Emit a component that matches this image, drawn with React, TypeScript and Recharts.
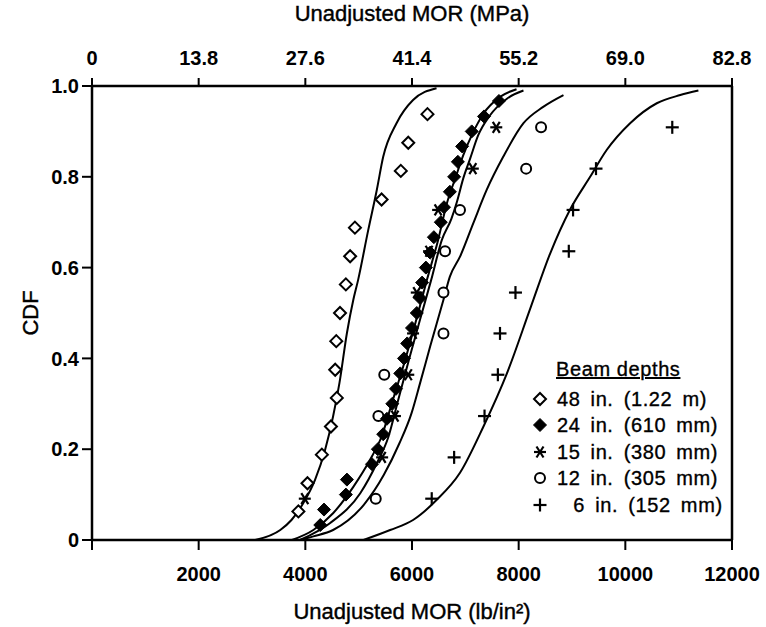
import React from 'react';
import { ComposedChart, XAxis, YAxis, Scatter, Line, ReferenceLine } from 'recharts';

const FONT = '"Liberation Sans", Arial, sans-serif';
const INK = '#000';

// axis ticks
const psiTicks = [0, 2000, 4000, 6000, 8000, 10000, 12000];
const mpaTicks = [0, 13.8, 27.6, 41.4, 55.2, 69.0, 82.8];
const cdfTicks = [0, 0.2, 0.4, 0.6, 0.8, 1.0];

// 48 in. (1.22 m) beams - open diamonds
const mor48 = [3870, 4040, 4310, 4480, 4590, 4560, 4580, 4650, 4760, 4840, 4930, 5430, 5790, 5930, 6290];
const cdf48 = [0.063, 0.125, 0.188, 0.25, 0.313, 0.375, 0.438, 0.5, 0.563, 0.625, 0.688, 0.75, 0.813, 0.875, 0.938];

// 24 in. (610 mm) beams - filled diamonds
const mor24 = [4280, 4350, 4760, 4780, 5250, 5360, 5460, 5530, 5630, 5700, 5780, 5850, 5910, 6000, 6090,
  6150, 6190, 6260, 6340, 6410, 6540, 6600, 6710, 6790, 6860, 6940, 7120, 7350, 7630];
const cdf24 = [0.033, 0.067, 0.1, 0.133, 0.167, 0.2, 0.233, 0.267, 0.3, 0.333, 0.367, 0.4, 0.433, 0.467, 0.5,
  0.533, 0.567, 0.6, 0.633, 0.667, 0.7, 0.733, 0.767, 0.8, 0.833, 0.867, 0.9, 0.933, 0.967];

// 15 in. (380 mm) beams - asterisks
const mor15 = [3990, 5440, 5680, 5930, 6020, 6090, 6320, 6490, 7140, 7580];
const cdf15 = [0.091, 0.182, 0.273, 0.364, 0.455, 0.545, 0.636, 0.727, 0.818, 0.909];

// 12 in. (305 mm) beams - open circles
const mor12 = [5320, 5370, 5480, 6590, 6590, 6620, 6900, 8140, 8420];
const cdf12 = [0.091, 0.273, 0.364, 0.455, 0.545, 0.636, 0.727, 0.818, 0.909];

// 6 in. (152 mm) beams - plus signs
const mor6 = [6370, 6790, 7360, 7610, 7650, 7940, 8940, 9020, 9450, 10880];
const cdf6 = [0.091, 0.182, 0.273, 0.364, 0.455, 0.545, 0.636, 0.727, 0.818, 0.909];

// fitted curves
const fitMor48 = [3060, 3530, 3740, 3960, 4180, 4370, 4520, 4640, 4780, 4900, 4990, 5180, 5340, 5460, 5710, 6020, 6460];
const fitCdf48 = [0, 0.022, 0.044, 0.081, 0.132, 0.198, 0.272, 0.346, 0.456, 0.529, 0.573, 0.683, 0.771, 0.844, 0.918, 0.969, 0.995];

const fitMor24 = [3750, 4150, 4520, 4900, 5210, 5430, 5640, 5870, 6080, 6280, 6490, 6660, 6810, 6960, 7150, 7340, 7650, 7960];
const fitCdf24 = [0, 0.022, 0.059, 0.117, 0.176, 0.228, 0.308, 0.396, 0.485, 0.573, 0.661, 0.744, 0.796, 0.847, 0.899, 0.939, 0.976, 0.993];

const fitMor15 = [3900, 4460, 5030, 5340, 5560, 5740, 5940, 6150, 6360, 6560, 6740, 6840, 6960, 7090, 7240, 7460, 7780, 8090];
const fitCdf15 = [0, 0.037, 0.103, 0.169, 0.228, 0.308, 0.396, 0.485, 0.573, 0.661, 0.708, 0.744, 0.796, 0.84, 0.891, 0.935, 0.972, 0.99];

const fitMor12 = [3900, 4150, 4520, 5100, 5470, 5760, 5990, 6150, 6340, 6590, 6710, 6900, 7150, 7400, 7710, 8090, 8460, 8840];
const fitCdf12 = [0, 0.008, 0.022, 0.078, 0.143, 0.212, 0.279, 0.345, 0.426, 0.529, 0.58, 0.624, 0.698, 0.771, 0.844, 0.918, 0.954, 0.98];

const fitMor6 = [5090, 5590, 6020, 6460, 6900, 7340, 7780, 8230, 8590, 8960, 9340, 9650, 10090, 10590, 11030, 11370];
const fitCdf6 = [0, 0.022, 0.044, 0.088, 0.148, 0.25, 0.367, 0.514, 0.631, 0.727, 0.8, 0.859, 0.918, 0.962, 0.98, 0.99];

const pts = (xs: number[], ys: number[]) => xs.map((x, i) => ({ x, y: ys[i] }));

// marker shapes
const OpenDiamond = ({ cx, cy }: any) =>
  cx == null ? null : (
    <path d={`M${cx},${cy - 6}L${cx + 6},${cy}L${cx},${cy + 6}L${cx - 6},${cy}Z`} fill="#fff" stroke={INK} strokeWidth={2} />
  );
const FilledDiamond = ({ cx, cy }: any) =>
  cx == null ? null : (
    <path d={`M${cx},${cy - 6.5}L${cx + 6.5},${cy}L${cx},${cy + 6.5}L${cx - 6.5},${cy}Z`} fill={INK} stroke={INK} strokeWidth={1} />
  );
const Star = ({ cx, cy }: any) =>
  cx == null ? null : (
    <g stroke={INK} strokeWidth={2.2}>
      <line x1={cx - 6} y1={cy} x2={cx + 6} y2={cy} />
      <line x1={cx - 3.5} y1={cy - 5.5} x2={cx + 3.5} y2={cy + 5.5} />
      <line x1={cx + 3.5} y1={cy - 5.5} x2={cx - 3.5} y2={cy + 5.5} />
    </g>
  );
const OpenCircle = ({ cx, cy }: any) =>
  cx == null ? null : <circle cx={cx} cy={cy} r={5} fill="#fff" stroke={INK} strokeWidth={2} />;
const Plus = ({ cx, cy }: any) =>
  cx == null ? null : (
    <g stroke={INK} strokeWidth={2.2}>
      <line x1={cx - 6.5} y1={cy} x2={cx + 6.5} y2={cy} />
      <line x1={cx} y1={cy - 6.5} x2={cx} y2={cy + 6.5} />
    </g>
  );

const tickStyle = { fill: INK, fontSize: 20, fontWeight: 'bold', fontFamily: FONT };
const titleStyle = { fill: INK, fontSize: 22, fontFamily: FONT, stroke: INK, strokeWidth: 0.4 };
const axisLine = { stroke: INK, strokeWidth: 2.5 };
const tickLine = { stroke: INK, strokeWidth: 2 };

const CdfLabel = ({ viewBox }: any) => {
  const cy = viewBox.y + viewBox.height / 2;
  return (
    <text x={30} y={cy} transform={`rotate(-90 30 ${cy})`} textAnchor="middle" dominantBaseline="central"
      {...titleStyle}>CDF</text>
  );
};

const legendRows = [
  { Icon: OpenDiamond, text: '48 in. (1.22 m)' },
  { Icon: FilledDiamond, text: '24 in. (610 mm)' },
  { Icon: Star, text: '15 in. (380 mm)' },
  { Icon: OpenCircle, text: '12 in. (305 mm)' },
  { Icon: Plus, text: '\u2007\u20096 in. (152 mm)' },
];

function BeamLegend() {
  return (
    <div style={{ position: 'absolute', left: 531, top: 356, fontFamily: FONT, color: INK, fontSize: 20,
      lineHeight: '26.5px', WebkitTextStroke: '0.35px #000' }}>
      <div style={{ marginLeft: 25, textDecoration: 'underline', letterSpacing: 0.6, marginBottom: 3 }}>Beam depths</div>
      {legendRows.map(({ Icon, text }) => (
        <div key={text} style={{ display: 'flex', alignItems: 'center', whiteSpace: 'pre' }}>
          <svg width={20} height={18} style={{ marginRight: 6 }}>
            <Icon cx={9} cy={9} />
          </svg>
          <span style={{ letterSpacing: 0.6, wordSpacing: 4 }}>{text}</span>
        </div>
      ))}
    </div>
  );
}

export default function App() {
  const line = (xs: number[], ys: number[], key: string) => (
    <Line key={key} data={pts(xs, ys)} dataKey="y" xAxisId="psi" yAxisId="cdf" type="monotone"
      stroke={INK} strokeWidth={2} dot={false} activeDot={false} isAnimationActive={false} />
  );
  return (
    <div style={{ position: 'absolute', left: 0, top: 0, width: 766, height: 627, background: '#fff' }}>
      <ComposedChart width={766} height={627} margin={{ top: 0, right: 34, bottom: 0, left: 0 }}>
        <XAxis xAxisId="psi" dataKey="x" type="number" orientation="bottom" domain={[0, 12000]} ticks={psiTicks}
          allowDataOverflow interval={0} height={87} tickSize={10} tickMargin={17} axisLine={axisLine} tickLine={tickLine} tick={tickStyle}
          tickFormatter={(v: number) => (v === 0 ? '' : String(v))}
          label={{ value: 'Unadjusted MOR (lb/in\u00B2)', position: 'insideBottom', offset: 8, ...titleStyle }} />
        <XAxis xAxisId="mpa" dataKey="x" type="number" orientation="top" domain={[0, 82.8]} ticks={mpaTicks}
          allowDataOverflow interval={0} height={86} tickSize={8} tickMargin={13} axisLine={axisLine} tickLine={tickLine} tick={tickStyle}
          tickFormatter={(v: number) => (v === 0 ? '0' : v.toFixed(1))}
          label={{ value: 'Unadjusted MOR (MPa)', position: 'insideTop', offset: 5, ...titleStyle }} />
        <YAxis yAxisId="cdf" dataKey="y" type="number" domain={[0, 1]} ticks={cdfTicks} interval={0}
          allowDataOverflow width={92} tickSize={10} tickMargin={3} axisLine={axisLine} tickLine={tickLine} tick={tickStyle}
          tickFormatter={(v: number) => (v === 0 ? '0' : v.toFixed(1))}
          label={<CdfLabel />} />
        <ReferenceLine xAxisId="psi" yAxisId="cdf" x={12000} stroke={INK} strokeWidth={2.5} />

        {line(fitMor48, fitCdf48, 'f48')}
        {line(fitMor24, fitCdf24, 'f24')}
        {line(fitMor15, fitCdf15, 'f15')}
        {line(fitMor12, fitCdf12, 'f12')}
        {line(fitMor6, fitCdf6, 'f6')}

        <Scatter name="48 in." data={pts(mor48, cdf48)} xAxisId="psi" yAxisId="cdf" shape={OpenDiamond} isAnimationActive={false} />
        <Scatter name="12 in." data={pts(mor12, cdf12)} xAxisId="psi" yAxisId="cdf" shape={OpenCircle} isAnimationActive={false} />
        <Scatter name="24 in." data={pts(mor24, cdf24)} xAxisId="psi" yAxisId="cdf" shape={FilledDiamond} isAnimationActive={false} />
        <Scatter name="15 in." data={pts(mor15, cdf15)} xAxisId="psi" yAxisId="cdf" shape={Star} isAnimationActive={false} />
        <Scatter name="6 in." data={pts(mor6, cdf6)} xAxisId="psi" yAxisId="cdf" shape={Plus} isAnimationActive={false} />
      </ComposedChart>
      <BeamLegend />
    </div>
  );
}
